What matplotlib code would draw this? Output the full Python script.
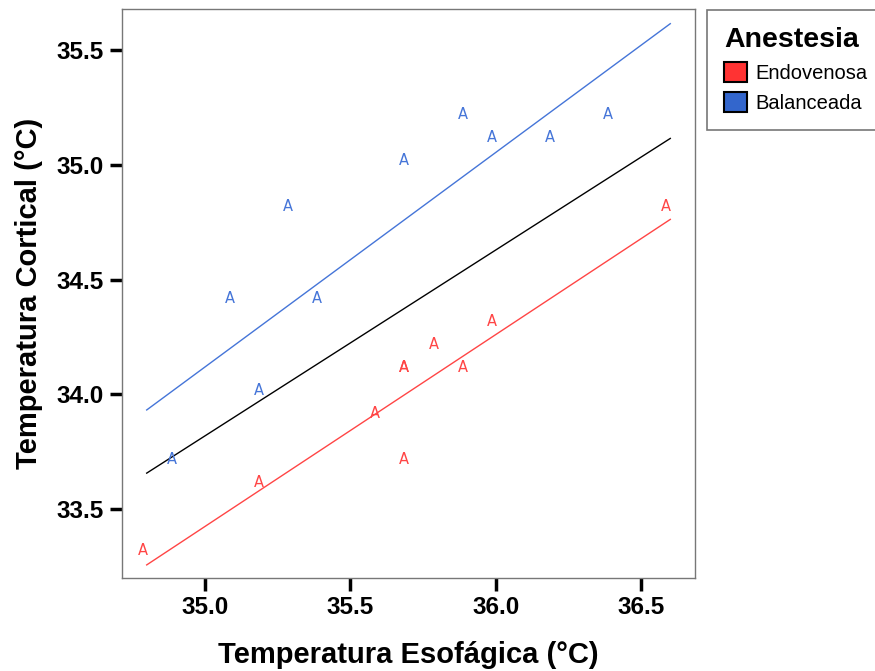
import numpy as np
import matplotlib
matplotlib.use('Agg')
import matplotlib.pyplot as plt
from matplotlib.patches import Patch

# datos
endo_x = [34.8, 35.2, 35.6, 35.7, 35.7, 35.7, 35.8, 35.9, 36.0, 36.6]
endo_y = [33.3, 33.6, 33.9, 34.1, 34.1, 33.7, 34.2, 34.1, 34.3, 34.8]
bal_x = [34.9, 35.1, 35.2, 35.3, 35.4, 35.7, 35.9, 36.0, 36.2, 36.4]
bal_y = [33.7, 34.4, 34.0, 34.8, 34.4, 35.0, 35.2, 35.1, 35.1, 35.2]

xticks = [35.0, 35.5, 36.0, 36.5]
yticks = [33.5, 34.0, 34.5, 35.0, 35.5]

red = '#ff4545'
blue = '#4575d8'

plt.rcParams['font.family'] = ['Liberation Sans', 'DejaVu Sans']

fig = plt.figure(figsize=(8.75, 6.71), dpi=100)
ax = fig.add_axes([0.1394, 0.1386, 0.6549, 0.848])

all_x = np.array(endo_x + bal_x)
all_y = np.array(endo_y + bal_y)
xs = np.array([all_x.min(), all_x.max()])

# rectas de regresion por grupo y total
for gx, gy, col in [(endo_x, endo_y, red), (bal_x, bal_y, blue), (all_x, all_y, 'black')]:
    m, b = np.polyfit(gx, gy, 1)
    ax.plot(xs, m * xs + b, color=col, lw=1.0)

for gx, gy, col in [(endo_x, endo_y, red), (bal_x, bal_y, blue)]:
    for x, y in zip(gx, gy):
        ax.annotate('A', (x, y), xytext=(-3, 3), textcoords='offset points',
                    ha='center', va='center', color=col, fontsize=10.5,
                    family='DejaVu Sans')

ax.set_xlim(34.715, 36.685)
ax.set_ylim(33.2, 35.68)
ax.set_xticks(xticks)
ax.set_yticks(yticks)
ax.set_xticklabels([f'{t:.1f}' for t in xticks])
ax.set_yticklabels([f'{t:.1f}' for t in yticks])
ax.tick_params(length=9, width=2.5, labelsize=17.5, pad=4)
for lab in ax.get_xticklabels() + ax.get_yticklabels():
    lab.set_fontweight('bold')
for sp in ax.spines.values():
    sp.set_color('#777777')
    sp.set_linewidth(1)

ax.set_xlabel('Temperatura Esofágica (°C)', fontsize=21, fontweight='bold', labelpad=16)
ax.set_ylabel('Temperatura Cortical (°C)', fontsize=21, fontweight='bold', labelpad=10)

handles = [Patch(facecolor='#ff3333', edgecolor='black', lw=1.5, label='Endovenosa'),
           Patch(facecolor='#3366cc', edgecolor='black', lw=1.5, label='Balanceada')]
leg = fig.legend(handles=handles, title='Anestesia', loc='upper left',
                 bbox_to_anchor=(0.808, 0.985), borderaxespad=0, fontsize=14.5,
                 fancybox=False, edgecolor='#555555', handlelength=1.15,
                 handleheight=1.15, handletextpad=0.4, borderpad=0.85,
                 labelspacing=0.45, alignment='left')
leg.get_title().set_fontsize(20.5)
leg.get_title().set_fontweight('bold')
leg.get_frame().set_linewidth(1.2)

fig.savefig('out.png', dpi=100)
